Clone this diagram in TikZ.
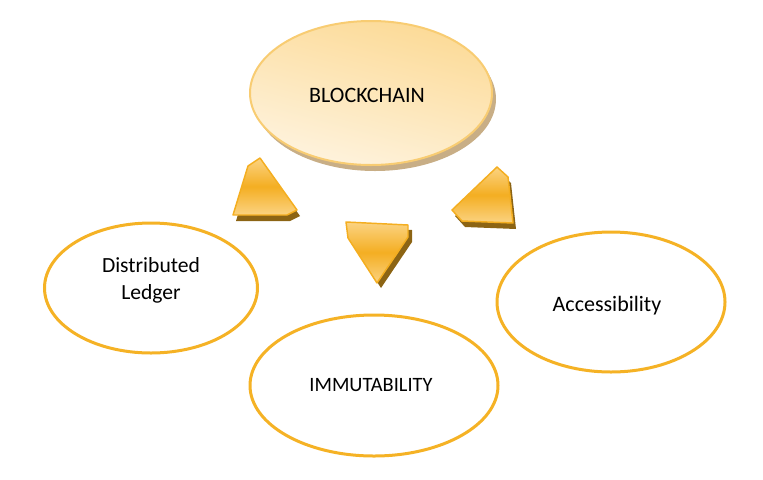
\documentclass[tikz,border=0pt]{standalone}
\usepackage{fontspec}
\setmainfont{Carlito}
\usetikzlibrary{shapes.geometric}
\definecolor{ring}{HTML}{F5B225}
\definecolor{bcline}{HTML}{F8CC72}
\definecolor{bctop}{HTML}{FCDA96}
\definecolor{bcbot}{HTML}{FEF3DE}
\definecolor{bcshadow}{HTML}{C8AE86}
\definecolor{arrline}{HTML}{F4AE20}
\definecolor{arrlight}{HTML}{FBD382}
\definecolor{arrmid}{HTML}{F4AE22}
\definecolor{arrshadow}{HTML}{8C6414}
\tikzset{
  oval/.style={ellipse, draw=ring, line width=2.25pt, fill=white, inner sep=0pt},
  lbl/.style={font=\fontsize{16.5}{20.25}\selectfont, align=center, text=black, inner sep=0pt},
  blockarrow/.style={draw=arrline, line width=1.1pt, line join=round, top color=arrlight, bottom color=arrlight, middle color=arrmid},
  arrshade/.style={fill=arrshadow, draw=none}
}
\begin{document}
\begin{tikzpicture}[x=0.75pt,y=-0.75pt]
\useasboundingbox (0,0) rectangle (763,479);
% BLOCKCHAIN
\node[ellipse, fill=bcshadow, minimum width=181.5pt, minimum height=108pt, inner sep=0pt] (bcs) at (375,99) {};
\node[ellipse, draw=bcline, line width=1.5pt, top color=bctop, bottom color=bcbot, shading angle=-15,
      minimum width=181.5pt, minimum height=108pt, inner sep=0pt] (bc) at (371,93) {};
\node[lbl] (bct) at (367,95) {BLOCKCHAIN};
% lower ellipses
\node[oval, minimum width=159.75pt, minimum height=97.5pt] (dl) at (151,288) {};
\node[lbl, font=\fontsize{16.2}{20.25}\selectfont] (dlt) at (151,280) {Distributed\\Ledger};
\node[oval, minimum width=186pt, minimum height=105.75pt] (im) at (374,385.5) {};
\node[lbl, font=\fontsize{15.3}{20}\selectfont] (imt) at (371,385.5) {IMMUTABILITY};
\node[oval, minimum width=171pt, minimum height=105pt] (ac) at (611,302) {};
\node[lbl] (act) at (607,306) {Accessibility};
% left arrow
\fill[arrshade, shift={(3,6)}] (260,158) -- (248,166) -- (233,215) -- (287,215) -- (297,210) -- cycle;
\path[blockarrow] (260,158) -- (248,166) -- (233,215) -- (287,215) -- (297,210) -- cycle;
% middle arrow
\fill[arrshade, shift={(4,5)}] (346,222) -- (408,225) -- (408,237) -- (377,283) -- (348,238) -- cycle;
\path[blockarrow] (346,222) -- (408,225) -- (408,237) -- (377,283) -- (348,238) -- cycle;
% right arrow
\fill[arrshade, shift={(3,6)}] (497,167) -- (508,177) -- (513,223) -- (462,221) -- (452,210) -- cycle;
\path[blockarrow] (497,167) -- (508,177) -- (513,223) -- (462,221) -- (452,210) -- cycle;
\end{tikzpicture}
\end{document}
